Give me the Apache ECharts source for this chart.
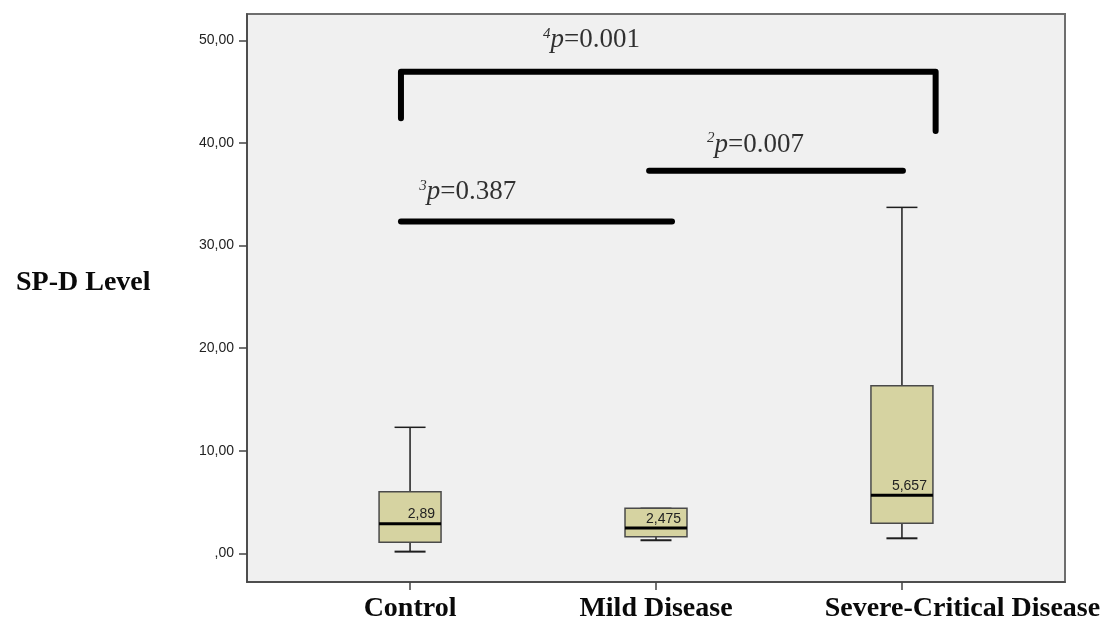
<!DOCTYPE html>
<html>
<head>
<meta charset="utf-8">
<title>SP-D Level by disease group</title>
<script src="https://cdn.jsdelivr.net/npm/echarts@6/dist/echarts.min.js"></script>
<style>
  html, body { margin: 0; padding: 0; background: #ffffff; }
  #chart { width: 1113px; height: 619px; }
</style>
</head>
<body>
<div id="chart"></div>
<script>
// Groups shown on the x axis (placed at positions 0, 1, 2)
const categories = ['Control', 'Mild Disease', 'Severe-Critical Disease'];

// Box statistics per group
const whiskerLow = [0.16, 1.27, 1.46];
const q1Values   = [1.07, 1.62, 2.92];
const medians    = [2.89, 2.475, 5.657];
const q3Values   = [6.0, 4.38, 16.34];
const whiskerHigh = [12.28, 4.38, 33.72];

// Y axis tick values and their labels
const yTickValues = [0, 10, 20, 30, 40, 50];
const yTickLabels = [',00', '10,00', '20,00', '30,00', '40,00', '50,00'];

// Significance brackets: polyline points as [group position, SP-D value]
const bracketAll  = [[-0.037, 42.4], [-0.037, 46.95], [2.137, 46.95], [2.137, 41.16]];
const bracketCM   = [[-0.037, 32.35], [1.065, 32.35]];
const bracketMS   = [[0.972, 37.3], [2.004, 37.3]];

// P-value annotations: [group position, SP-D value, superscript, value text]
const pNotes = [
  [0.541, 50.0, '4', '=0.001'],
  [1.207, 39.8, '2', '=0.007'],
  [0.037, 35.2, '3', '=0.387']
];

const boxData = categories.map((c, i) => [i, whiskerLow[i], q1Values[i], medians[i], q3Values[i], whiskerHigh[i]]);
const fmtComma = v => String(v).replace('.', ',');

const BOX_HALF = 0.126;   // half box width, in group units
const serif = '"Liberation Serif", "DejaVu Serif", serif';
const sans = '"Liberation Sans", Arial, sans-serif';

function renderBox(params, api) {
  const x = api.value(0);
  const lo = api.value(1), q1 = api.value(2), med = api.value(3), q3 = api.value(4), hi = api.value(5);
  const band = api.size([1, 0])[0];
  const hw = band * BOX_HALF;
  const cw = hw / 2;
  const pLo = api.coord([x, lo]);
  const pQ1 = api.coord([x, q1]);
  const pMed = api.coord([x, med]);
  const pQ3 = api.coord([x, q3]);
  const pHi = api.coord([x, hi]);
  const cx = pMed[0];
  const thin = { stroke: '#1e1e1e', lineWidth: 1.5 };
  return {
    type: 'group',
    children: [
      { type: 'line', shape: { x1: cx, y1: pHi[1], x2: cx, y2: pQ3[1] }, style: thin },
      { type: 'line', shape: { x1: cx - cw, y1: pHi[1], x2: cx + cw, y2: pHi[1] }, style: thin },
      { type: 'line', shape: { x1: cx, y1: pQ1[1], x2: cx, y2: pLo[1] }, style: thin },
      { type: 'line', shape: { x1: cx - cw, y1: pLo[1], x2: cx + cw, y2: pLo[1] }, style: { stroke: '#1e1e1e', lineWidth: 2 } },
      { type: 'rect', shape: { x: cx - hw, y: pQ3[1], width: hw * 2, height: pQ1[1] - pQ3[1] },
        style: { fill: '#d6d3a1', stroke: '#4a4a4a', lineWidth: 1.5 } },
      { type: 'line', shape: { x1: cx - hw, y1: pMed[1], x2: cx + hw, y2: pMed[1] },
        style: { stroke: '#000000', lineWidth: 3 } },
      { type: 'text', style: {
          text: fmtComma(med), x: cx + hw - 6, y: pMed[1] - 2,
          align: 'right', verticalAlign: 'bottom',
          fill: '#222222', fontSize: 14, fontFamily: sans } }
    ]
  };
}

const bracketLine = data => ({
  type: 'line',
  data: data,
  symbol: 'none',
  silent: true,
  lineStyle: { color: '#000000', width: 6, cap: 'round', join: 'round' },
  z: 5
});

const chart = echarts.init(document.getElementById('chart'), null, { renderer: 'canvas' });

chart.setOption({
  animation: false,
  backgroundColor: '#ffffff',
  title: {
    text: 'SP-D Level',
    left: 11,
    top: 264,
    textStyle: { fontFamily: serif, fontWeight: 'bold', fontSize: 28, color: '#0a0a0a' }
  },
  grid: {
    left: 247, top: 14, right: 48, bottom: 37,
    outerBoundsMode: 'none',
    containLabel: false,
    show: true,
    backgroundColor: '#f0f0f0',
    borderColor: '#6e6e6e',
    borderWidth: 2
  },
  xAxis: {
    type: 'value',
    min: -0.663,
    max: 2.663,
    splitLine: { show: false },
    axisLine: { show: true, onZero: false, lineStyle: { color: '#444444', width: 1.5 } },
    axisTick: { show: true, customValues: [0, 1, 2], length: 8, lineStyle: { color: '#444444', width: 1.5 } },
    axisLabel: {
      customValues: [0, 1, 2],
      margin: 13,
      formatter: v => {
        const name = categories[Math.round(v)];
        return Math.round(v) === 2 ? '{shift|' + name + '}' : name;
      },
      fontFamily: serif,
      fontWeight: 'bold',
      fontSize: 28,
      color: '#0a0a0a',
      rich: {
        shift: { fontFamily: serif, fontWeight: 'bold', fontSize: 28, color: '#0a0a0a', padding: [0, 0, 0, 121] }
      }
    }
  },
  yAxis: {
    type: 'value',
    min: -2.8,
    max: 52.57,
    splitLine: { show: false },
    axisLine: { show: true, onZero: false, lineStyle: { color: '#444444', width: 1.5 } },
    axisTick: { show: true, customValues: yTickValues, length: 8, lineStyle: { color: '#444444', width: 1.5 } },
    axisLabel: {
      customValues: yTickValues,
      margin: 13,
      formatter: v => yTickLabels[yTickValues.indexOf(Math.round(v))] || '',
      fontFamily: sans,
      fontSize: 14,
      color: '#222222'
    }
  },
  series: [
    {
      type: 'custom',
      name: 'SP-D',
      renderItem: renderBox,
      encode: { x: 0, y: [1, 2, 3, 4, 5] },
      data: boxData,
      z: 3
    },
    bracketLine(bracketAll),
    bracketLine(bracketCM),
    bracketLine(bracketMS),
    {
      type: 'scatter',
      symbolSize: 0,
      silent: true,
      data: pNotes.map(n => ({ value: [n[0], n[1]], sup: n[2], rest: n[3] })),
      label: {
        show: true,
        position: 'right',
        distance: 0,
        formatter: p => '{sup|' + p.data.sup + '}{it|p}{n|' + p.data.rest + '}',
        rich: {
          sup: { fontFamily: serif, fontStyle: 'italic', fontSize: 15, color: '#000000', verticalAlign: 'top', lineHeight: 28 },
          it: { fontFamily: serif, fontStyle: 'italic', fontSize: 27, color: '#000000', lineHeight: 28 },
          n: { fontFamily: serif, fontSize: 27, color: '#000000', lineHeight: 28 }
        }
      },
      z: 6
    }
  ]
});
</script>
</body>
</html>
